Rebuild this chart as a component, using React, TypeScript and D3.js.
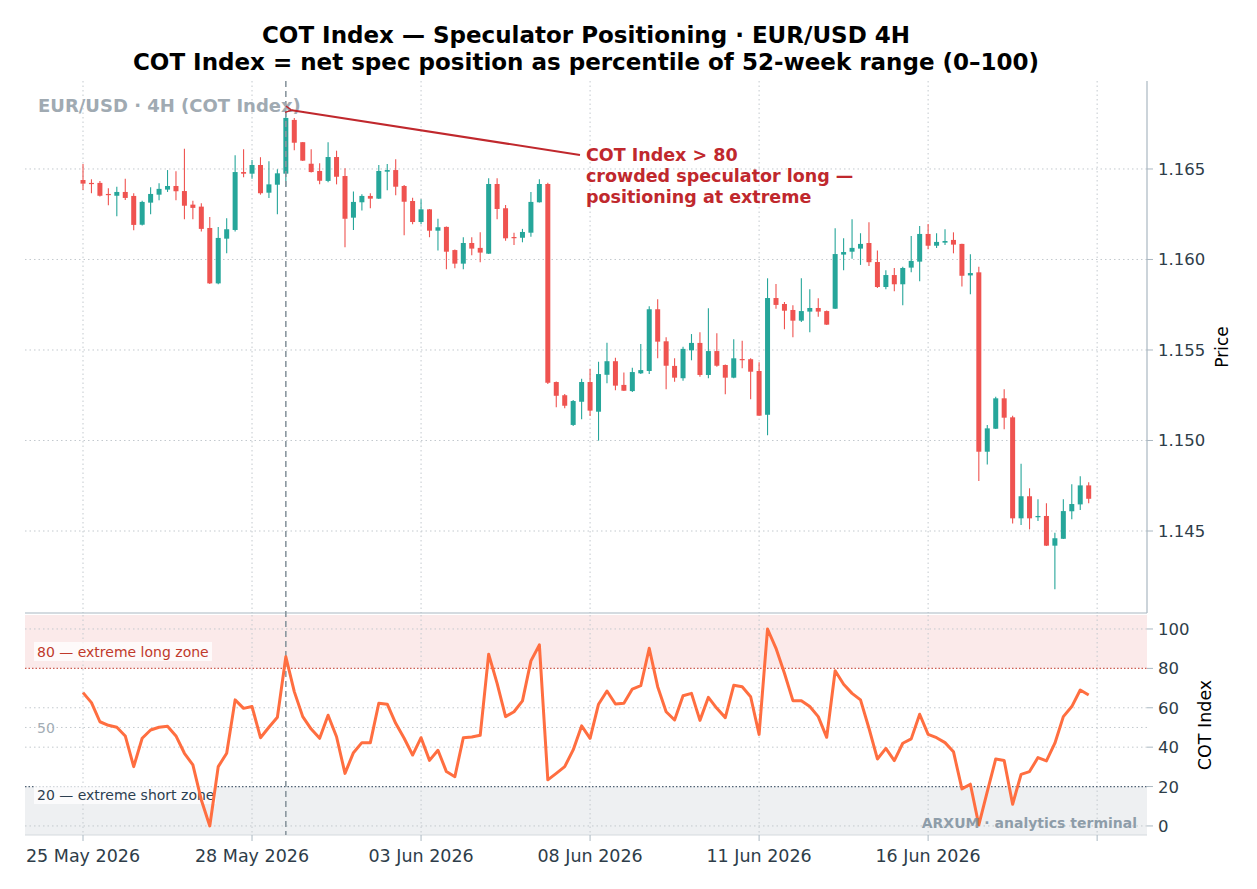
import React from "react";
import * as d3 from "d3";

const openP = [1.16439,1.16423,1.16423,1.16362,1.16352,1.16373,1.16351,1.16192,1.16314,1.16358,1.16386,1.16406,1.16378,1.16303,1.16292,1.16174,1.15868,1.16115,1.16163,1.16483,1.16474,1.16522,1.16369,1.16413,1.16474,1.16771,1.16648,1.16529,1.16489,1.16434,1.16566,1.16461,1.16231,1.16316,1.16351,1.16336,1.16485,1.16494,1.16406,1.16323,1.16207,1.16277,1.16159,1.16180,1.16052,1.15977,1.16091,1.16064,1.16032,1.16417,1.16283,1.16124,1.16120,1.16148,1.16316,1.16417,1.15323,1.15250,1.15086,1.15214,1.15323,1.15159,1.15363,1.15438,1.15307,1.15273,1.15371,1.15384,1.15725,1.15548,1.15412,1.15344,1.15498,1.15539,1.15362,1.15494,1.15417,1.15347,1.15450,1.15449,1.15384,1.15142,1.15787,1.15754,1.15721,1.15662,1.15712,1.15732,1.15715,1.15728,1.16027,1.16043,1.16060,1.16091,1.15986,1.15848,1.15914,1.15863,1.15955,1.15988,1.16141,1.16076,1.16093,1.16108,1.16086,1.15912,1.15929,1.14938,1.15065,1.15233,1.15128,1.14570,1.14692,1.14576,1.14583,1.14419,1.14457,1.14609,1.14647,1.14752];
const highP = [1.16528,1.16443,1.16434,1.16393,1.16402,1.16446,1.16366,1.16325,1.16399,1.16421,1.16494,1.16487,1.16612,1.16325,1.16310,1.16235,1.16180,1.16228,1.16576,1.16609,1.16550,1.16565,1.16543,1.16498,1.16830,1.16782,1.16649,1.16609,1.16531,1.16648,1.16601,1.16504,1.16375,1.16360,1.16366,1.16522,1.16528,1.16554,1.16412,1.16341,1.16333,1.16279,1.16225,1.16182,1.16055,1.16123,1.16123,1.16150,1.16449,1.16449,1.16301,1.16148,1.16169,1.16373,1.16443,1.16424,1.15326,1.15257,1.15224,1.15341,1.15397,1.15435,1.15540,1.15457,1.15375,1.15402,1.15533,1.15741,1.15780,1.15570,1.15454,1.15518,1.15588,1.15598,1.15730,1.15592,1.15420,1.15559,1.15551,1.15454,1.15432,1.15896,1.15865,1.15765,1.15747,1.15896,1.15835,1.15786,1.15718,1.16172,1.16117,1.16222,1.16145,1.16206,1.16049,1.15940,1.15953,1.15960,1.16130,1.16185,1.16196,1.16145,1.16167,1.16150,1.16087,1.16029,1.15960,1.15086,1.15242,1.15283,1.15137,1.14872,1.14736,1.14675,1.14653,1.14491,1.14675,1.14758,1.14802,1.14769];
const lowP = [1.16384,1.16366,1.16348,1.16299,1.16239,1.16329,1.16161,1.16188,1.16250,1.16327,1.16373,1.16327,1.16222,1.16222,1.16154,1.15865,1.15863,1.16034,1.16154,1.16454,1.16446,1.16358,1.16340,1.16250,1.16402,1.16603,1.16544,1.16480,1.16415,1.16427,1.16415,1.16067,1.16163,1.16270,1.16283,1.16334,1.16382,1.16355,1.16134,1.16194,1.16194,1.16123,1.16049,1.15946,1.15951,1.15946,1.16023,1.15985,1.16030,1.16222,1.16104,1.16080,1.16095,1.16126,1.16315,1.15312,1.15183,1.15178,1.15080,1.15117,1.15135,1.14999,1.15316,1.15277,1.15273,1.15268,1.15367,1.15367,1.15454,1.15283,1.15325,1.15330,1.15443,1.15352,1.15344,1.15408,1.15255,1.15344,1.15399,1.15228,1.15137,1.15029,1.15728,1.15614,1.15570,1.15655,1.15598,1.15684,1.15638,1.15727,1.15940,1.16004,1.15970,1.15964,1.15843,1.15835,1.15824,1.15747,1.15929,1.15880,1.16056,1.16064,1.16080,1.16034,1.15851,1.15808,1.14776,1.14868,1.15064,1.15062,1.14542,1.14533,1.14509,1.14555,1.14417,1.14178,1.14456,1.14565,1.14616,1.14653];
const closeP = [1.16419,1.16417,1.16352,1.16356,1.16373,1.16340,1.16191,1.16318,1.16362,1.16390,1.16406,1.16377,1.16297,1.16285,1.16169,1.15868,1.16119,1.16167,1.16483,1.16474,1.16522,1.16366,1.16415,1.16476,1.16782,1.16645,1.16546,1.16483,1.16435,1.16566,1.16457,1.16225,1.16318,1.16351,1.16336,1.16489,1.16494,1.16402,1.16319,1.16207,1.16277,1.16159,1.16178,1.16043,1.15977,1.16091,1.16060,1.16038,1.16417,1.16279,1.16117,1.16119,1.16152,1.16318,1.16417,1.15319,1.15247,1.15192,1.15218,1.15323,1.15165,1.15367,1.15438,1.15303,1.15275,1.15378,1.15389,1.15725,1.15546,1.15413,1.15347,1.15506,1.15539,1.15362,1.15494,1.15413,1.15347,1.15454,1.15445,1.15380,1.15137,1.15787,1.15749,1.15717,1.15662,1.15715,1.15732,1.15712,1.15640,1.16030,1.16041,1.16064,1.16086,1.15985,1.15848,1.15914,1.15863,1.15953,1.15992,1.16141,1.16076,1.16097,1.16102,1.16082,1.15910,1.15925,1.14938,1.15067,1.15233,1.15126,1.14570,1.14692,1.14570,1.14583,1.14419,1.14460,1.14610,1.14649,1.14752,1.14678];
const cotIndex = [67.7,62.6,52.9,51.1,50.1,45.7,30.1,44.5,48.7,50.1,50.6,45.7,36.9,31.0,13.2,0,30.1,36.9,64.0,59.7,60.6,44.8,50.1,55.2,85.9,68.2,55.5,49.2,44.5,56.2,45.3,26.7,37.2,42.3,42.3,62.3,61.8,52.1,44.5,36.0,44.8,33.3,38.4,27.6,25.0,44.8,45.2,46.0,87.2,72.4,55.5,58.0,63.5,83.8,91.9,23.4,26.7,30.1,38.6,50.8,44.5,61.8,68.5,61.9,62.3,69.5,71.2,90.2,70.7,58.0,53.8,66.1,67.3,53.6,65.3,59.7,55.0,71.4,70.7,65.6,46.5,100,90.2,77.5,63.6,63.6,60.6,55.5,45.0,78.8,71.9,67.3,64.0,49.6,34.0,39.4,33.2,42.0,44.2,56.7,46.5,44.8,42.3,37.7,18.8,21.2,0.5,17.4,34.0,33.2,11.0,26.2,27.6,34.7,33.0,42.0,55.5,60.6,69.0,66.5];
const xTickIdx = [0, 20, 40, 60, 80, 100, 120];
const xTickLabels = ["25 May 2026", "28 May 2026", "03 Jun 2026", "08 Jun 2026", "11 Jun 2026", "16 Jun 2026", ""];
const priceTicks = [1.145, 1.15, 1.155, 1.16, 1.165];
const cotTicks = [0, 20, 40, 60, 80, 100];
const cotGrid = [0, 20, 40, 50, 60, 80, 100];
const markerIdx = 24;

const FONT = "'DejaVu Sans', Verdana, sans-serif";
const UP = "#26a69a";
const DOWN = "#ef5350";

export default function App() {
  const L = 25, R = 1147;
  const T1 = 81, B1 = 613, T2 = 615, B2 = 835;
  const x = d3.scaleLinear().domain([-6.864, 125.9]).range([L, R]);
  const y = d3.scaleLinear().domain([1.14047, 1.16986]).range([B1, T1]);
  const yc = d3.scaleLinear().domain([-4.6, 107.1]).range([B2, T2]);
  const line = d3.line<number>().x((_, i) => x(i)).y((v) => yc(v));
  const bw = 5;
  const tipX = x(markerIdx) + 4;
  const tipY = y(highP[markerIdx]) + 1;
  const grid = "#c3c9ce";
  return (
    <svg width={1257} height={889} style={{ position: "absolute", left: 0, top: 0, display: "block", background: "#fff" }} fontFamily={FONT}>
      <defs>
        <marker id="ah" viewBox="0 0 10 10" refX="1" refY="5" markerWidth="8" markerHeight="8" orient="auto-start-reverse" markerUnits="userSpaceOnUse">
          <path d="M9,1 L1,5 L9,9" fill="none" stroke="#c0282d" strokeWidth="1.8" />
        </marker>
      </defs>
      {/* title */}
      <text x={586} y={43} textAnchor="middle" fontSize={23} fontWeight="bold" fill="#000">COT Index — Speculator Positioning · EUR/USD 4H</text>
      <text x={586} y={70} textAnchor="middle" fontSize={23} fontWeight="bold" fill="#000">COT Index = net spec position as percentile of 52-week range (0–100)</text>

      {/* bottom zones */}
      <rect x={L} y={T2} width={R - L} height={yc(80) - T2} fill="#fbeaea" />
      <rect x={L} y={yc(20)} width={R - L} height={B2 - yc(20)} fill="#eef0f2" />

      {/* vertical grid */}
      {xTickIdx.map((t) => (
        <g key={"vg" + t}>
          <line x1={x(t)} x2={x(t)} y1={T1} y2={B1} stroke={grid} strokeDasharray="1.5,3" />
          <line x1={x(t)} x2={x(t)} y1={T2} y2={B2} stroke={grid} strokeDasharray="1.5,3" />
        </g>
      ))}
      {/* horizontal grid top */}
      {priceTicks.map((p) => (
        <line key={"hg" + p} x1={L} x2={R} y1={y(p)} y2={y(p)} stroke={grid} strokeDasharray="1.5,3" />
      ))}
      {cotGrid.filter((v) => v !== 20 && v !== 80).map((v) => (
        <line key={"cg" + v} x1={L} x2={R} y1={yc(v)} y2={yc(v)} stroke={grid} strokeDasharray="1.5,3" />
      ))}
      <line x1={L} x2={R} y1={yc(80)} y2={yc(80)} stroke="#c0392b" strokeOpacity={0.8} strokeDasharray="1.5,2" strokeWidth={1.3} />
      <line x1={L} x2={R} y1={yc(20)} y2={yc(20)} stroke="#34495e" strokeOpacity={0.85} strokeDasharray="1.5,2" strokeWidth={1.3} />

      {/* zone labels */}
      <rect x={34} y={642} width={178} height={19} fill="#fff" fillOpacity={0.75} />
      <text x={37} y={657} fontSize={14} fill="#c0392b">80 — extreme long zone</text>
      <rect x={34} y={785} width={182} height={19} fill="#fff" fillOpacity={0.75} />
      <text x={37} y={800} fontSize={14} fill="#2c3e50">20 — extreme short zone</text>
      <text x={37} y={733} fontSize={14} fill="#a3adb5">50</text>

      {/* candles */}
      {openP.map((o, i) => {
        const c = closeP[i];
        const col = c >= o ? UP : DOWN;
        const top = y(Math.max(o, c));
        const bot = y(Math.min(o, c));
        return (
          <g key={"c" + i}>
            <line x1={x(i)} x2={x(i)} y1={y(highP[i])} y2={y(lowP[i])} stroke={col} strokeWidth={1.1} />
            <rect x={x(i) - bw / 2} y={top} width={bw} height={Math.max(1.2, bot - top)} fill={col} />
          </g>
        );
      })}

      {/* panel frames */}
      <line x1={R} x2={R} y1={T1} y2={B1} stroke="#aab8c2" strokeWidth={1.2} />
      <line x1={L} x2={R} y1={B1} y2={B1} stroke="#aab8c2" strokeWidth={1.2} />
      <line x1={L} x2={R} y1={B2} y2={B2} stroke="#d5dade" strokeWidth={1} />

      {/* marker dashed line */}
      <line x1={x(markerIdx)} x2={x(markerIdx)} y1={T1} y2={B2} stroke="#8a979f" strokeWidth={1.6} strokeDasharray="6,4" />

      {/* COT line */}
      <path d={line(cotIndex) || ""} fill="none" stroke="#ff6e40" strokeWidth={3} strokeLinejoin="round" />

      {/* watermark */}
      <text x={1137} y={828} textAnchor="end" fontSize={14} fontWeight="bold" fill="#7d8e9c" fillOpacity={0.85}>ARXUM · analytics terminal</text>

      {/* panel label */}
      <text x={38} y={112} fontSize={18} fontWeight="bold" fill="#a0aab2">EUR/USD · 4H (COT Index)</text>

      {/* annotation */}
      <line x1={580} y1={155} x2={tipX + 2} y2={tipY} stroke="#c0282d" strokeWidth={2} markerEnd="url(#ah)" />
      <g fontSize={17.5} fontWeight="bold" fill="#c0282d">
        <text x={586} y={161}>COT Index &gt; 80</text>
        <text x={586} y={182}>crowded speculator long —</text>
        <text x={586} y={203}>positioning at extreme</text>
      </g>

      {/* right price axis */}
      {priceTicks.map((p) => (
        <g key={"pt" + p}>
          <line x1={R} x2={R + 6} y1={y(p)} y2={y(p)} stroke="#aab8c2" />
          <text x={R + 11} y={y(p) + 6} fontSize={16.5} fill="#2e3d49">{p.toFixed(3)}</text>
        </g>
      ))}
      <text transform={`translate(1228,${(T1 + B1) / 2}) rotate(-90)`} textAnchor="middle" fontSize={17} fill="#000">Price</text>

      {/* right cot axis */}
      {cotTicks.map((v) => (
        <g key={"ct" + v}>
          <line x1={R} x2={R + 6} y1={yc(v)} y2={yc(v)} stroke="#aab8c2" />
          <text x={R + 11} y={yc(v) + 6} fontSize={16.5} fill="#2e3d49">{v}</text>
        </g>
      ))}
      <text transform={`translate(1211,${(T2 + B2) / 2}) rotate(-90)`} textAnchor="middle" fontSize={17.5} fill="#000">COT Index</text>

      {/* x axis */}
      {xTickIdx.map((t, k) => (
        <g key={"xt" + t}>
          <line x1={x(t)} x2={x(t)} y1={B2} y2={B2 + 6} stroke="#aab8c2" />
          <text x={x(t)} y={862} textAnchor="middle" fontSize={17.5} fill="#2e3d49">{xTickLabels[k]}</text>
        </g>
      ))}
    </svg>
  );
}
